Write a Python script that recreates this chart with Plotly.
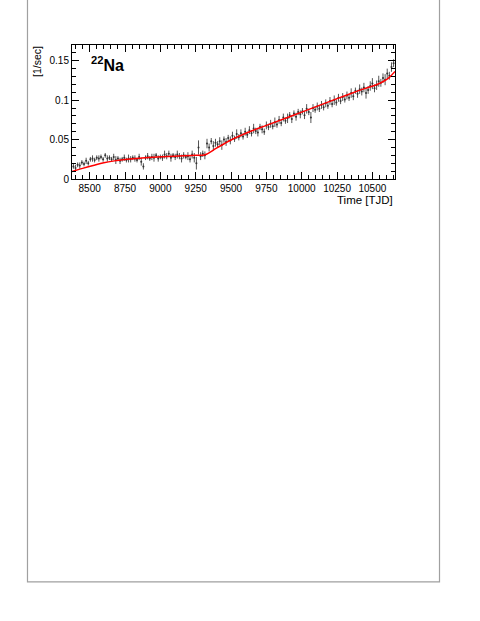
import plotly.graph_objects as go

# --- data -------------------------------------------------------------
time_tjd = [
    8385, 8400, 8415, 8430, 8445, 8460, 8475, 8490, 8505, 8520, 8535, 8550, 8565, 8580, 8595,
    8610, 8625, 8640, 8655, 8670, 8685, 8700, 8715, 8730, 8745, 8760, 8775, 8790, 8805, 8820,
    8835, 8850, 8865, 8880, 8895, 8910, 8925, 8940, 8955, 8970, 8985, 9000, 9015, 9030, 9045,
    9060, 9075, 9090, 9105, 9120, 9135, 9150, 9165, 9180, 9195, 9210, 9225, 9240, 9255, 9270,
    9285, 9300, 9315, 9330, 9345, 9360, 9375, 9390, 9405, 9420, 9435, 9450, 9465, 9480, 9495,
    9510, 9525, 9540, 9555, 9570, 9585, 9600, 9615, 9630, 9645, 9660, 9675, 9690, 9705, 9720,
    9735, 9750, 9765, 9780, 9795, 9810, 9825, 9840, 9855, 9870, 9885, 9900, 9915, 9930, 9945,
    9960, 9975, 9990, 10005, 10020, 10035, 10050, 10065, 10080, 10095, 10110, 10125, 10140, 10155, 10170,
    10185, 10200, 10215, 10230, 10245, 10260, 10275, 10290, 10305, 10320, 10335, 10350, 10365, 10380, 10395,
    10410, 10425, 10440, 10455, 10470, 10485, 10500, 10515, 10530, 10545, 10560, 10575, 10590, 10605, 10620,
    10635, 10650,
]
rate = [
    0.016, 0.014, 0.018, 0.017, 0.021, 0.019, 0.023, 0.020, 0.025, 0.026, 0.024, 0.027, 0.026, 0.028, 0.025,
    0.030, 0.026, 0.027, 0.025, 0.028, 0.024, 0.026, 0.023, 0.025, 0.027, 0.024, 0.026, 0.025, 0.027, 0.026,
    0.024, 0.028, 0.022, 0.016, 0.027, 0.029, 0.026, 0.028, 0.027, 0.030, 0.026, 0.028, 0.027, 0.031, 0.029,
    0.032, 0.027, 0.030, 0.028, 0.031, 0.029, 0.026, 0.030, 0.028, 0.029, 0.025, 0.031, 0.027, 0.020, 0.040,
    0.029, 0.032, 0.030, 0.045, 0.040, 0.048, 0.042, 0.046, 0.044, 0.048, 0.043, 0.050, 0.047, 0.052, 0.049,
    0.055, 0.051, 0.057, 0.053, 0.058, 0.054, 0.060, 0.056, 0.062, 0.058, 0.064, 0.061, 0.059, 0.066, 0.063,
    0.060, 0.068, 0.066, 0.070, 0.067, 0.072, 0.069, 0.075, 0.071, 0.078, 0.074, 0.077, 0.081, 0.076, 0.083,
    0.079, 0.085, 0.082, 0.086, 0.081, 0.089, 0.085, 0.078, 0.090, 0.088, 0.092, 0.089, 0.094, 0.091, 0.096,
    0.093, 0.099, 0.095, 0.100, 0.097, 0.103, 0.099, 0.104, 0.101, 0.106, 0.103, 0.109, 0.105, 0.112, 0.108,
    0.114, 0.111, 0.116, 0.109, 0.113, 0.118, 0.121, 0.115, 0.119, 0.124, 0.122, 0.128, 0.126, 0.134, 0.131,
    0.142, 0.147,
]
rate_err = [
    0.003, 0.004, 0.003, 0.004, 0.003, 0.003, 0.004, 0.003, 0.003, 0.004, 0.003, 0.003, 0.004, 0.003, 0.003,
    0.003, 0.004, 0.003, 0.003, 0.004, 0.005, 0.003, 0.004, 0.003, 0.004, 0.003, 0.005, 0.004, 0.003, 0.004,
    0.003, 0.004, 0.005, 0.004, 0.003, 0.004, 0.003, 0.004, 0.005, 0.003, 0.004, 0.003, 0.004, 0.005, 0.004,
    0.004, 0.005, 0.003, 0.004, 0.005, 0.004, 0.005, 0.004, 0.003, 0.005, 0.004, 0.005, 0.006, 0.008, 0.009,
    0.005, 0.004, 0.005, 0.006, 0.005, 0.004, 0.006, 0.005, 0.004, 0.005, 0.006, 0.004, 0.005, 0.004, 0.005,
    0.005, 0.004, 0.006, 0.004, 0.005, 0.004, 0.005, 0.004, 0.005, 0.004, 0.006, 0.004, 0.005, 0.004, 0.005,
    0.004, 0.005, 0.004, 0.005, 0.004, 0.006, 0.004, 0.005, 0.004, 0.005, 0.004, 0.006, 0.004, 0.005, 0.004,
    0.005, 0.004, 0.005, 0.004, 0.005, 0.006, 0.004, 0.007, 0.005, 0.004, 0.005, 0.004, 0.005, 0.004, 0.005,
    0.004, 0.005, 0.004, 0.006, 0.004, 0.005, 0.004, 0.005, 0.004, 0.005, 0.004, 0.006, 0.005, 0.004, 0.005,
    0.006, 0.005, 0.006, 0.007, 0.005, 0.006, 0.007, 0.005, 0.006, 0.007, 0.005, 0.006, 0.007, 0.006, 0.005,
    0.006, 0.005,
]

fit_time = [8375, 8450, 8525, 8600, 8675, 8750, 8850, 8950, 9100, 9250, 9316, 9400, 9500,
            9635, 9750, 10000, 10250, 10344, 10450, 10520, 10580, 10620, 10660]
fit_rate = [0.0095, 0.0135, 0.0172, 0.0207, 0.0230, 0.0246, 0.0262, 0.0276, 0.0290, 0.0300, 0.0308,
            0.0395, 0.0495, 0.0602, 0.0680, 0.0848, 0.1020, 0.1082, 0.1150, 0.1190, 0.1240, 0.1290, 0.1365]

x_ticks = [8500, 8750, 9000, 9250, 9500, 9750, 10000, 10250, 10500]
x_tick_labels = ["8500", "8750", "9000", "9250", "9500", "9750", "10000", "10250", "10500"]
y_ticks = [0, 0.05, 0.1, 0.15]
y_tick_labels = ["0", "0.05", "0.1", "0.15"]

# --- figure -----------------------------------------------------------
FONT = "Liberation Sans, Arial, Helvetica, sans-serif"

fig = go.Figure()
fig.add_trace(go.Scatter(
    x=time_tjd, y=rate, mode="markers",
    marker=dict(color="#333333", size=2),
    error_y=dict(type="data", array=rate_err, color="#555555", thickness=1, width=0),
    showlegend=False, hoverinfo="x+y",
))
fig.add_trace(go.Scatter(
    x=fit_time, y=fit_rate, mode="lines", line=dict(color="#ff0000", width=1.5, shape="spline"),
    showlegend=False,
))

axis_common = dict(
    showline=True, linecolor="#000000", linewidth=1, mirror="ticks",
    ticks="inside", ticklen=7, tickwidth=1, tickcolor="#000000",
    showgrid=False, zeroline=False,
    tickfont=dict(family=FONT, size=10, color="#000000"),
)

fig.update_layout(
    width=480, height=621,
    margin=dict(l=72, r=85, t=45, b=442),
    paper_bgcolor="white", plot_bgcolor="white",
    font=dict(family=FONT, color="#000000"),
    xaxis=dict(
        range=[8375, 10660], tickvals=x_ticks, ticktext=x_tick_labels,
        minor=dict(dtick=50, tick0=8500, ticks="inside", ticklen=4, tickcolor="#000000", showgrid=False),
        **axis_common,
    ),
    yaxis=dict(
        range=[0, 0.17], tickvals=y_ticks, ticktext=y_tick_labels,
        minor=dict(dtick=0.01, tick0=0, ticks="inside", ticklen=4, tickcolor="#000000", showgrid=False),
        **axis_common,
    ),
)

# outer page frame
fig.add_shape(type="rect", xref="paper", yref="paper",
              x0=-0.1378, x1=1.1378, y0=-3.007, y1=1.45,
              line=dict(color="#a0a0a0", width=1.2), fillcolor="rgba(0,0,0,0)", layer="below")

fig.add_annotation(text="[1/sec]", xref="paper", yref="paper", x=-0.108, y=1.005,
                   xanchor="center", yanchor="top", textangle=-90, showarrow=False,
                   font=dict(family=FONT, size=10.5, color="#000000"))
fig.add_annotation(text="Time [TJD]", xref="paper", yref="paper", x=1.0, y=-0.157,
                   xanchor="right", yanchor="middle", showarrow=False,
                   font=dict(family=FONT, size=11.5, color="#000000"))
fig.add_annotation(text="<b><sup>22</sup>Na</b>", xref="paper", yref="paper", x=0.052, y=0.86,
                   xanchor="left", yanchor="middle", showarrow=False,
                   font=dict(family=FONT, size=16, color="#000000"))

fig.write_html("out.html", config={"displayModeBar": False},
               post_script="document.body.style.margin='0';document.body.style.overflow='hidden';")
